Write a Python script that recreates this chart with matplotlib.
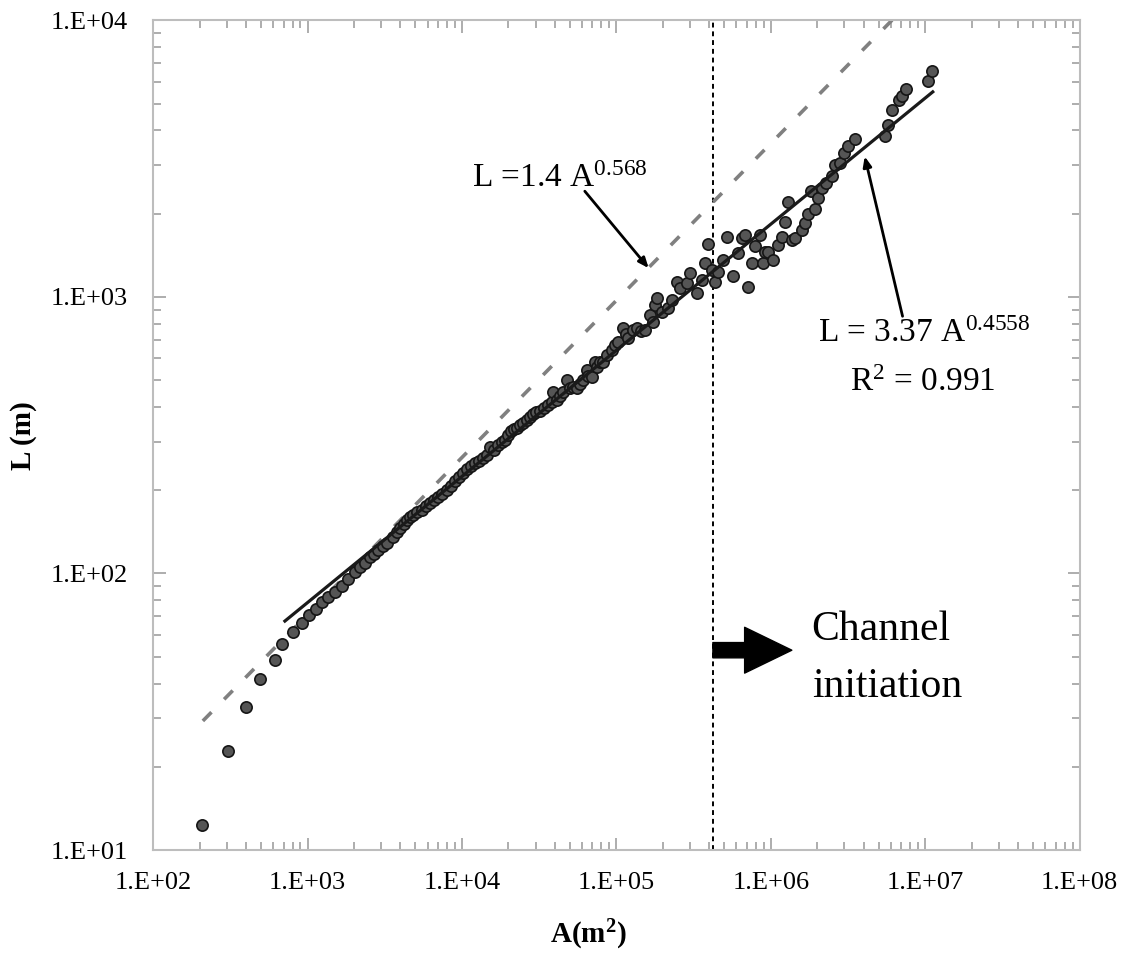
import numpy as np
import matplotlib
matplotlib.use("Agg")
import matplotlib.pyplot as plt
from matplotlib.ticker import LogLocator, FuncFormatter, NullFormatter

plt.rcParams['font.family'] = ['Liberation Serif', 'DejaVu Serif']
plt.rcParams['mathtext.fontset'] = 'custom'
plt.rcParams['mathtext.rm'] = 'Liberation Serif'
plt.rcParams['mathtext.it'] = 'Liberation Serif:italic'
plt.rcParams['mathtext.bf'] = 'Liberation Serif:bold'

# data, as log10 values
logA = [2.317, 2.485, 2.602, 2.693, 2.790, 2.835, 2.906, 2.964, 3.010, 3.055,
        3.094, 3.133, 3.178, 3.223, 3.262, 3.307, 3.340, 3.372, 3.405, 3.430,
        3.456, 3.489, 3.515, 3.553, 3.579, 3.599, 3.625, 3.644, 3.663, 3.683,
        3.709, 3.741, 3.767, 3.793, 3.819, 3.845, 3.871, 3.903, 3.929, 3.955,
        3.981, 4.006, 4.032, 4.058, 4.084, 4.110, 4.136, 4.162, 4.181, 4.207,
        4.233, 4.259, 4.278, 4.298, 4.317, 4.337, 4.356, 4.375, 4.395, 4.421,
        4.440, 4.460, 4.479, 4.505, 4.531, 4.557, 4.583, 4.589, 4.615, 4.634,
        4.654, 4.680, 4.699, 4.718, 4.744, 4.764, 4.783, 4.809, 4.816, 4.841,
        4.861, 4.874, 4.893, 4.913, 4.939, 4.971, 4.990, 5.010, 5.042, 5.061,
        5.074, 5.107, 5.133, 5.159, 5.184, 5.217, 5.236, 5.249, 5.262, 5.294,
        5.333, 5.359, 5.392, 5.411, 5.456, 5.476, 5.521, 5.553, 5.573, 5.592,
        5.618, 5.638, 5.657, 5.689, 5.715, 5.754, 5.786, 5.812, 5.832, 5.851,
        5.877, 5.896, 5.929, 5.948, 5.961, 5.981, 6.013, 6.045, 6.071, 6.091,
        6.110, 6.136, 6.155, 6.201, 6.220, 6.240, 6.259, 6.285, 6.304, 6.330,
        6.356, 6.395, 6.414, 6.447, 6.472, 6.498, 6.544, 6.738, 6.757, 6.783,
        6.828, 6.848, 6.874, 7.016, 7.042]
logL = [1.091, 1.358, 1.517, 1.618, 1.687, 1.745, 1.788, 1.821, 1.850, 1.871,
        1.897, 1.915, 1.933, 1.954, 1.980, 2.005, 2.023, 2.038, 2.059, 2.070,
        2.085, 2.099, 2.110, 2.132, 2.150, 2.164, 2.179, 2.193, 2.204, 2.211,
        2.222, 2.229, 2.244, 2.254, 2.265, 2.276, 2.287, 2.301, 2.316, 2.334,
        2.348, 2.363, 2.377, 2.388, 2.399, 2.406, 2.417, 2.428, 2.457, 2.446,
        2.464, 2.475, 2.482, 2.500, 2.515, 2.522, 2.525, 2.536, 2.544, 2.554,
        2.565, 2.576, 2.583, 2.587, 2.598, 2.609, 2.619, 2.656, 2.627, 2.641,
        2.656, 2.699, 2.670, 2.674, 2.670, 2.685, 2.699, 2.735, 2.713, 2.710,
        2.764, 2.746, 2.764, 2.764, 2.789, 2.807, 2.825, 2.836, 2.887, 2.865,
        2.851, 2.880, 2.887, 2.876, 2.880, 2.934, 2.909, 2.970, 2.995, 2.945,
        2.959, 2.988, 3.053, 3.031, 3.050, 3.086, 3.013, 3.060, 3.122, 3.190,
        3.096, 3.053, 3.089, 3.133, 3.216, 3.075, 3.158, 3.212, 3.223, 3.035,
        3.122, 3.183, 3.223, 3.122, 3.162, 3.162, 3.133, 3.187, 3.216, 3.270,
        3.342, 3.205, 3.212, 3.241, 3.266, 3.299, 3.382, 3.317, 3.357, 3.393,
        3.411, 3.436, 3.476, 3.483, 3.519, 3.545, 3.570, 3.581, 3.621, 3.675,
        3.711, 3.725, 3.751, 3.780, 3.816]

A = 10 ** np.array(logA)
L = 10 ** np.array(logL)

# fitted power law L = 3.37 A^0.4558 (end points)
fit_A = [714, 1.12e7]
fit_L = [67.3, 5510]
# reference power law L = 1.4 A^0.568 (end points)
ref_A = [210, 1.0e7]
ref_L = [29.3, 13250]

channel_A = 4.22e5

fig = plt.figure(figsize=(11.34, 9.66), dpi=100)
ax = fig.add_axes([0.135, 0.12, 0.817, 0.859])
ax.set_xscale('log')
ax.set_yscale('log')
ax.set_xlim(1e2, 1e8)
ax.set_ylim(1e1, 1e4)

ax.plot(ref_A, ref_L, color='#808080', lw=2.6, linestyle=(0, (3.4, 5.0)),
        solid_capstyle='butt', zorder=2)
ax.scatter(A, L, s=66, facecolor='#555555', edgecolor='#151515', linewidths=1.2, zorder=3)
ax.plot(fit_A, fit_L, color='#1a1a1a', lw=2.3, zorder=4)
ax.axvline(channel_A, color='black', lw=1.4, linestyle=(0, (2.5, 2.0)), zorder=1)

# big arrow for channel initiation
ax.annotate('', xy=(1.37e6, 52.8), xytext=(channel_A, 52.8),
            arrowprops=dict(arrowstyle='simple,head_length=3.4,head_width=3.3,tail_width=1.1',
                            mutation_scale=10, color='black', shrinkA=0, shrinkB=0), zorder=5)
ax.text(1.84e6, 57.4, 'Channel', fontsize=30, va='baseline', ha='left')
ax.text(1.84e6, 35.7, 'initiation', fontsize=30, va='baseline', ha='left')

# equation labels and arrows
ax.text(1.16e4, 2490, r'L =1.4 A$^{\mathregular{0.568}}$', fontsize=24, va='baseline', ha='left')
ax.annotate('', xy=(1.62e5, 1270), xytext=(6.25e4, 2410),
            arrowprops=dict(arrowstyle='-|>,head_length=0.6,head_width=0.25', lw=2,
                            color='black', shrinkA=0, shrinkB=0))
ax.text(2.01e6, 686, r'L = 3.37 A$^{\mathregular{0.4558}}$', fontsize=24, va='baseline', ha='left')
ax.text(3.24e6, 456, r'R$^{\mathregular{2}}$ = 0.991', fontsize=24, va='baseline', ha='left')
ax.annotate('', xy=(4.06e6, 3220), xytext=(7.14e6, 851),
            arrowprops=dict(arrowstyle='-|>,head_length=0.6,head_width=0.25', lw=2,
                            color='black', shrinkA=0, shrinkB=0))

# axes styling
for sp in ax.spines.values():
    sp.set_color('#bdbdbd')
    sp.set_linewidth(1.5)
ax.xaxis.set_major_locator(LogLocator(base=10, numticks=10))
ax.yaxis.set_major_locator(LogLocator(base=10, numticks=10))
ax.xaxis.set_minor_locator(LogLocator(base=10, subs=np.arange(2, 10), numticks=20))
ax.yaxis.set_minor_locator(LogLocator(base=10, subs=np.arange(2, 10), numticks=20))
fmt = FuncFormatter(lambda v, p: '1.E+%02d' % int(round(np.log10(v))))
ax.xaxis.set_major_formatter(fmt)
ax.yaxis.set_major_formatter(fmt)
ax.xaxis.set_minor_formatter(NullFormatter())
ax.yaxis.set_minor_formatter(NullFormatter())
ax.tick_params(which='both', direction='in', top=True, right=True, color='#a0a0a0', width=1.2)
ax.tick_params(which='major', length=9)
ax.tick_params(which='minor', length=6)
ax.tick_params(axis='x', which='major', labelsize=19, pad=16)
ax.tick_params(axis='y', which='major', labelsize=19, pad=18)

ax.set_xlabel(r'A(m$^{\mathregular{2}}$)', fontsize=21, fontweight='bold')
ax.xaxis.set_label_coords(0.47, -0.082)
ax.set_ylabel('L (m)', fontsize=21, fontweight='bold', labelpad=10)

fig.savefig('out.png', dpi=100)
